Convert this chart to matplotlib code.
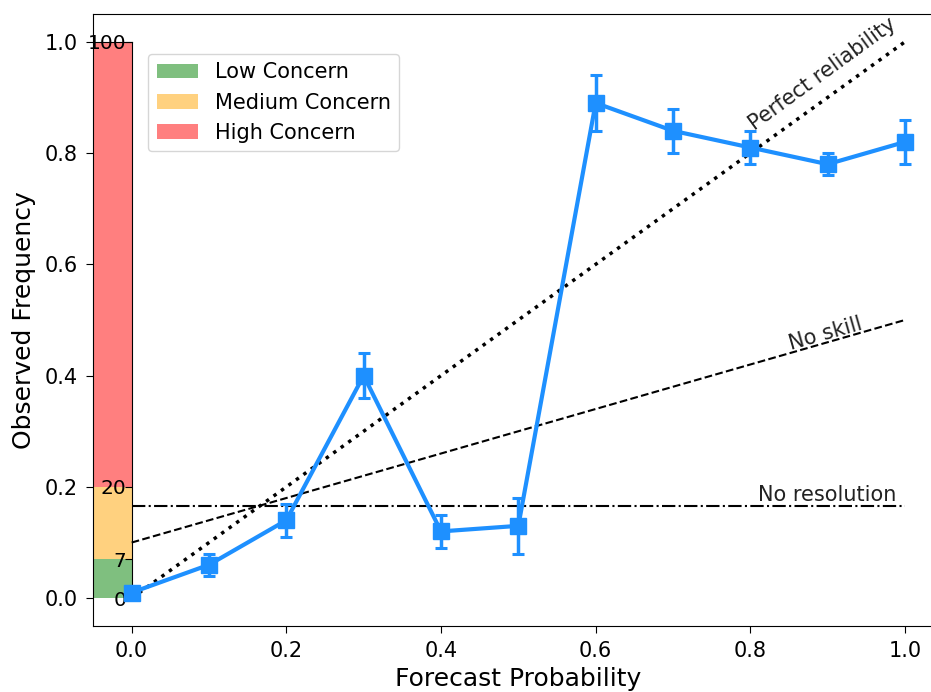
import matplotlib
matplotlib.use("Agg")
import matplotlib.pyplot as plt
import numpy as np

# ---- data ----
forecast_prob = [0.0, 0.1, 0.2, 0.3, 0.4, 0.5, 0.6, 0.7, 0.8, 0.9, 1.0]
observed_freq = [0.01, 0.06, 0.14, 0.40, 0.12, 0.13, 0.89, 0.84, 0.81, 0.78, 0.82]
freq_err = [0.01, 0.02, 0.03, 0.04, 0.03, 0.05, 0.05, 0.04, 0.03, 0.02, 0.04]
climatology = 0.165
no_skill_start = 0.10
no_skill_end = 0.50
concern_thresholds = [0, 7, 20, 100]
concern_labels = ["Low Concern", "Medium Concern", "High Concern"]
concern_colors = ["green", "orange", "red"]
x_ticks = [0.0, 0.2, 0.4, 0.6, 0.8, 1.0]
y_ticks = [0.0, 0.2, 0.4, 0.6, 0.8, 1.0]

plt.rcParams['font.family'] = ['DejaVu Sans']
fig = plt.figure(figsize=(9.31, 6.92), dpi=100)
ax = fig.add_axes([0.0999, 0.0954, 1.0136 - 0.0999, 0.9798 - 0.0954])
ax.set_xlim(-0.05, 1.05)
ax.set_ylim(-0.05, 1.05)
ax.spines['right'].set_visible(False)

# reference lines
ax.plot([0, 1], [0, 1], ':', color='black', lw=2.5, zorder=2)
ax.plot([0, 1], [no_skill_start, no_skill_end], '--', color='black', lw=1.5, zorder=2)
ax.plot([0, 1], [climatology, climatology], '-.', color='black', lw=1.5, zorder=2)

ax.text(0.805, 0.840, "Perfect reliability", rotation=36, rotation_mode='anchor',
        ha='left', va='baseline', fontsize=15, color='#222222')
ax.text(0.852, 0.446, "No skill", rotation=16, rotation_mode='anchor',
        ha='left', va='baseline', fontsize=15, color='#222222')
ax.text(0.81, 0.175, "No resolution", ha='left', va='baseline', fontsize=15, color='#222222')

# reliability curve
ax.errorbar(forecast_prob, observed_freq, yerr=freq_err, color='#1E90FF', lw=3,
            marker='s', markersize=11, elinewidth=2.5, capsize=4.5, capthick=2.2, zorder=4)

ax.set_xticks(x_ticks)
ax.set_yticks(y_ticks)
ax.tick_params(labelsize=15, length=5, pad=6)
ax.set_xlabel("Forecast Probability", fontsize=18, labelpad=4)
ax.set_ylabel("Observed Frequency", fontsize=18, labelpad=6)

# concern bar inset
ins = ax.inset_axes([-0.05, 0.0, 0.05, 1.0], transform=ax.transData)
ins.set_zorder(1)
ins.patch.set_visible(False)
ins.set_xlim(0, 1)
ins.set_ylim(0, 1)
handles = []
for i in range(3):
    lo = concern_thresholds[i] / 100
    hi = concern_thresholds[i + 1] / 100
    b = ins.bar(0.5, hi - lo, bottom=lo, width=1.0, color=concern_colors[i],
                alpha=0.5, label=concern_labels[i])
    handles.append(b)
ins.spines['left'].set_visible(False)
ins.spines['bottom'].set_visible(False)
ins.set_xticks([])
ins.yaxis.tick_right()
ins.set_yticks([t / 100 for t in concern_thresholds])
ins.set_yticklabels([str(t) for t in concern_thresholds])
ins.tick_params(axis='y', direction='in', length=5, pad=-4, labelsize=14.5)
for lab in ins.get_yticklabels():
    lab.set_horizontalalignment('right')

ax.legend(handles=handles, labels=concern_labels, loc='upper left',
          bbox_to_anchor=(0.065, 0.935), borderaxespad=0, fontsize=15)

fig.savefig("out.png", dpi=100)
